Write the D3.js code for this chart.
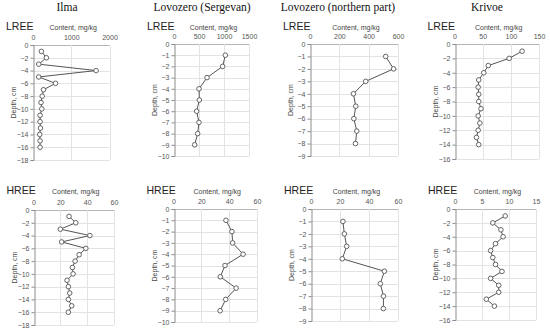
<!DOCTYPE html>
<html>
<head>
<meta charset="utf-8">
<script src="https://cdn.jsdelivr.net/npm/d3@7"></script>
<style>
  body { margin: 0; background: #fff; }
  svg text { font-family: "Liberation Sans", Arial, sans-serif; }
  .title { font-family: "Liberation Serif", "Times New Roman", serif; font-size: 11.5px; fill: #111; }
</style>
</head>
<body>
<svg id="chart" width="550" height="331"></svg>
<script>
// site names
const sites = ["Ilma", "Lovozero (Sergevan)", "Lovozero (northern part)", "Krivoe"];

// LREE content, mg/kg (depth -1, -2, ...)
const lreeIlma = [220, 350, 150, 1650, 150, 590, 275, 240, 210, 230, 185, 185, 195, 175, 185, 185];
const lreeSergevan = [1027, 973, 660, 500, 507, 453, 500, 473, 413];
const lreeNorthern = [516, 570, 380, 296, 312, 299, 319, 310];
const lreeKrivoe = [120, 97, 60, 52, 43, 42, 43, 43, 47, 42, 45, 42, 39, 43];

// HREE content, mg/kg
const hreeIlma = [26.5, 31.5, 20, 42, 21, 39, 34, 31, 29, 29.5, 25, 26, 27, 26, 28.5, 26];
const hreeSergevan = [37.7, 42, 42.5, 50, 37, 33.6, 45, 37.5, 33.5];
const hreeNorthern = [22, 23, 24.6, 21.6, 50.6, 47.8, 50, 49.9];
const hreeKrivoe = [9.3, 7, 8.5, 8.9, 7.5, 6.6, 7, 7.5, 8.7, 6.6, 8.1, 8.1, 5.8, 7.3];

// axis tick lists
const xTicksLree = [[0, 1000, 2000], [0, 500, 1000, 1500], [0, 200, 400, 600], [0, 50, 100, 150]];
const xTicksHree = [[0, 20, 40, 60], [0, 20, 40, 60], [0, 20, 40, 60], [0, 5, 10, 15]];
const yMin = [-18, -10, -9, -16];
const yStep = [2, 1, 1, 2];

const svg = d3.select("#chart");

// layout for each panel
const panels = [
  { row: "LREE", site: 0, data: lreeIlma, left: 33, right: 109.5, top: 45, bottom: 160 },
  { row: "LREE", site: 1, data: lreeSergevan, left: 174, right: 249, top: 44, bottom: 156 },
  { row: "LREE", site: 2, data: lreeNorthern, left: 310, right: 398, top: 44, bottom: 156 },
  { row: "LREE", site: 3, data: lreeKrivoe, left: 454.5, right: 539, top: 44, bottom: 159 },
  { row: "HREE", site: 0, data: hreeIlma, left: 33.5, right: 114, top: 210, bottom: 325 },
  { row: "HREE", site: 1, data: hreeSergevan, left: 173.5, right: 257, top: 209, bottom: 322 },
  { row: "HREE", site: 2, data: hreeNorthern, left: 311, right: 398, top: 209, bottom: 321 },
  { row: "HREE", site: 3, data: hreeKrivoe, left: 455, right: 536, top: 209, bottom: 320 }
];

// site titles
const titleX = [67, 202, 338, 487];
svg.selectAll(".title")
  .data(sites)
  .enter()
  .append("text")
  .attr("class", "title")
  .attr("x", (d, i) => titleX[i])
  .attr("y", 11)
  .attr("text-anchor", "middle")
  .text(d => d);

panels.forEach(p => {
  const s = p.site;
  const xt = p.row == "LREE" ? xTicksLree[s] : xTicksHree[s];
  const x = d3.scaleLinear().domain([0, xt[xt.length - 1]]).range([p.left, p.right]);
  const y = d3.scaleLinear().domain([0, yMin[s]]).range([p.top, p.bottom]);
  const yt = d3.range(0, yMin[s] - 0.5, -yStep[s]);

  const g = svg.append("g");

  // horizontal gridlines (the zero line is the darker axis)
  g.selectAll(".hg")
    .data(yt)
    .enter()
    .append("line")
    .attr("x1", p.left)
    .attr("x2", p.right)
    .attr("y1", d => Math.round(y(d)) + 0.5)
    .attr("y2", d => Math.round(y(d)) + 0.5)
    .attr("stroke", d => d == 0 ? "#b5b5b5" : "#e3e3e3")
    .attr("stroke-width", 1);

  // vertical gridlines
  g.selectAll(".vg")
    .data(xt.slice(1))
    .enter()
    .append("line")
    .attr("x1", d => Math.round(x(d)) + 0.5)
    .attr("x2", d => Math.round(x(d)) + 0.5)
    .attr("y1", p.top)
    .attr("y2", p.bottom)
    .attr("stroke", "#e3e3e3")
    .attr("stroke-width", 1);

  // top axis labels
  const xAxis = d3.axisTop(x).tickValues(xt).tickSize(0).tickPadding(4).tickFormat(d3.format("d"));
  const ga = g.append("g")
    .attr("transform", `translate(0,${p.top - 1})`)
    .call(xAxis);
  ga.select(".domain").remove();
  ga.selectAll("text").attr("font-size", "7px").attr("fill", "#555").attr("font-family", "Liberation Sans, Arial, sans-serif");

  // left axis
  const yAxis = d3.axisLeft(y).tickValues(yt).tickSize(3).tickPadding(2)
    .tickFormat(d => d == 0 ? "0" : "\u2212" + Math.abs(d));
  const gy = g.append("g")
    .attr("transform", `translate(${Math.round(p.left) + 0.5},0)`)
    .call(yAxis);
  gy.select(".domain").attr("stroke", "#8c8c8c");
  gy.selectAll("line").attr("stroke", "#8c8c8c");
  gy.selectAll("text").attr("font-size", "7px").attr("fill", "#555").attr("font-family", "Liberation Sans, Arial, sans-serif");

  // row label
  g.append("text")
    .attr("x", p.left - 27)
    .attr("y", p.row == "LREE" ? 29.5 : 194)
    .attr("font-size", "10.5px")
    .attr("fill", "#222")
    .text(p.row);

  // axis titles
  g.append("text")
    .attr("x", (p.left + p.right) / 2 + 2)
    .attr("y", p.row == "LREE" ? 29.5 : 194)
    .attr("text-anchor", "middle")
    .attr("font-size", "7px")
    .attr("fill", "#444")
    .text("Content, mg/kg");

  g.append("text")
    .attr("transform", `translate(${p.left - 17},${(p.top + p.bottom) / 2}) rotate(-90)`)
    .attr("text-anchor", "middle")
    .attr("font-size", "7px")
    .attr("fill", "#444")
    .text("Depth, cm");

  // series line and markers
  const pts = p.data.map((v, i) => ({ v: v, d: -(i + 1) }));
  const line = d3.line().x(d => x(d.v)).y(d => y(d.d));
  g.append("path")
    .datum(pts)
    .attr("d", line)
    .attr("fill", "none")
    .attr("stroke", "#555")
    .attr("stroke-width", 1);

  g.selectAll("circle")
    .data(pts)
    .enter()
    .append("circle")
    .attr("cx", d => x(d.v))
    .attr("cy", d => y(d.d))
    .attr("r", 2.3)
    .attr("fill", "#fff")
    .attr("stroke", "#555")
    .attr("stroke-width", 0.9);
});
</script>
</body>
</html>
